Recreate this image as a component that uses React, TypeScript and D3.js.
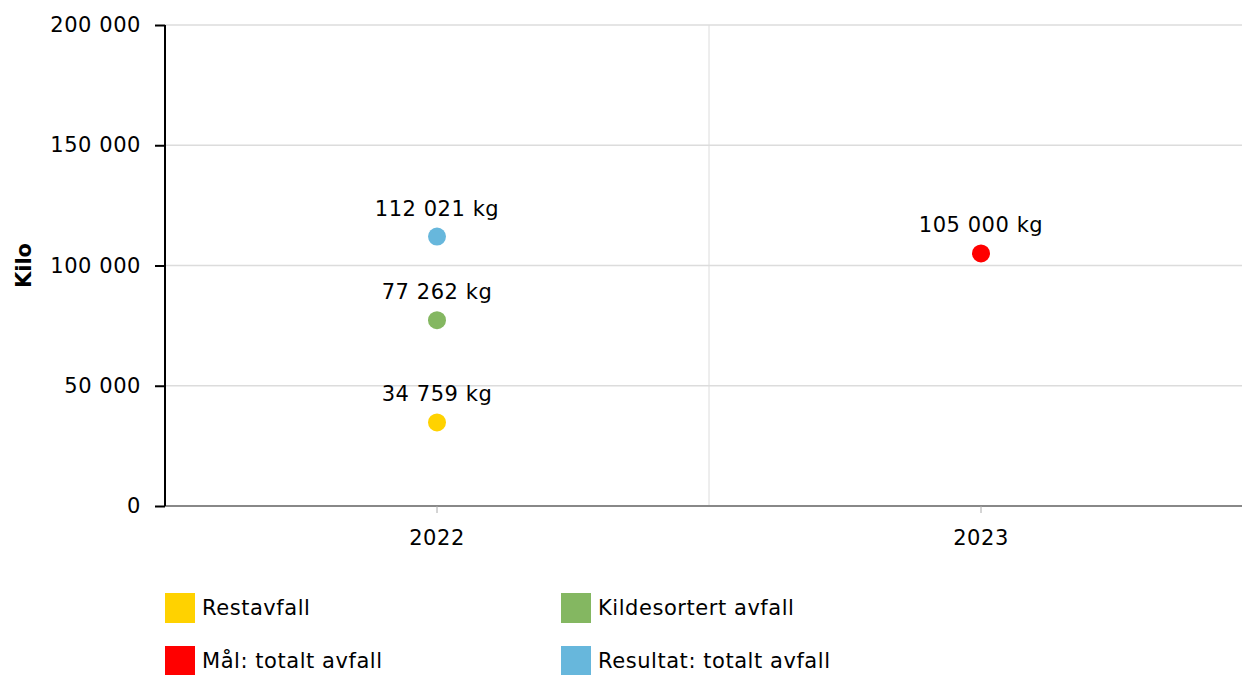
import React, { useRef, useEffect } from 'react';
import * as d3 from 'd3';

const years = ['2022', '2023'];
const seriesNames = ['Restavfall', 'Kildesortert avfall', 'Mål: totalt avfall', 'Resultat: totalt avfall'];
const seriesColors = ['#FFD200', '#84B761', '#FF0000', '#67B7DC'];
// [year, value] per series
const restavfall: [string, number][] = [['2022', 34759]];
const kildesortert: [string, number][] = [['2022', 77262]];
const maal: [string, number][] = [['2023', 105000]];
const resultat: [string, number][] = [['2022', 112021]];
const yTicks = [0, 50000, 100000, 150000, 200000];

const fmt = (v: number) => d3.format(',')(v).replace(/,/g, ' ');

const App = () => {
  const svgRef = useRef<SVGSVGElement>(null);

  useEffect(() => {
    const width = 1242;
    const height = 675;
    const margin = { top: 25, right: -11, bottom: 169, left: 165 };
    const font = 'DejaVu Sans, Verdana, sans-serif';
    const fs = '21px';
    const ls = '0.55px';

    const svg = d3.select(svgRef.current);
    svg.selectAll('*').remove();
    svg.attr('width', width).attr('height', height);

    const x = d3.scaleBand()
      .domain(years)
      .range([margin.left, width - margin.right]);
    const y = d3.scaleLinear()
      .domain([0, 200000])
      .range([height - margin.bottom, margin.top]);

    // grid
    svg.append('g')
      .selectAll('line')
      .data(yTicks.slice(1))
      .enter()
      .append('line')
      .attr('x1', margin.left)
      .attr('x2', width)
      .attr('y1', d => y(d))
      .attr('y2', d => y(d))
      .attr('stroke', '#dcdcdc')
      .attr('stroke-width', 1.5);

    svg.append('line')
      .attr('x1', (x('2023') as number))
      .attr('x2', (x('2023') as number))
      .attr('y1', y(200000))
      .attr('y2', y(0))
      .attr('stroke', '#dcdcdc')
      .attr('stroke-width', 1);

    // x axis
    const xAxis = d3.axisBottom(x).tickSize(7).tickPadding(17);
    const gx = svg.append('g')
      .attr('transform', `translate(0,${y(0)})`)
      .call(xAxis);
    gx.select('.domain').attr('stroke', '#888').attr('stroke-width', 2).attr('d', `M${margin.left},0H${width}`);
    gx.selectAll('.tick line').attr('stroke', '#aaa');
    gx.selectAll('text')
      .style('font-family', font)
      .style('font-size', fs)
      .style('letter-spacing', ls)
      .style('fill', '#000');

    // y axis
    const yAxis = d3.axisLeft(y).tickValues(yTicks).tickFormat(d => fmt(d as number)).tickSize(10).tickPadding(14);
    const gy = svg.append('g')
      .attr('transform', `translate(${margin.left},0)`)
      .call(yAxis);
    gy.select('.domain').attr('stroke', '#000').attr('stroke-width', 2).attr('d', `M0,${y(200000)}V${y(0)}`);
    gy.selectAll('.tick line').attr('stroke', '#000').attr('stroke-width', 2);
    gy.selectAll('text')
      .style('font-family', font)
      .style('font-size', fs)
      .style('letter-spacing', ls)
      .style('fill', '#000');

    svg.append('text')
      .attr('transform', `translate(31,${(y(0) + y(200000)) / 2}) rotate(-90)`)
      .attr('text-anchor', 'middle')
      .style('font-family', font)
      .style('font-size', fs)
      .style('font-weight', 'bold')
      .text('Kilo');

    // points
    const allSeries = [restavfall, kildesortert, maal, resultat];
    const cx = (yr: string) => (x(yr) as number) + x.bandwidth() / 2;
    allSeries.forEach((data, i) => {
      const g = svg.append('g');
      g.selectAll('circle')
        .data(data)
        .enter()
        .append('circle')
        .attr('cx', d => cx(d[0]))
        .attr('cy', d => y(d[1]))
        .attr('r', 9)
        .attr('fill', seriesColors[i]);
      g.selectAll('text')
        .data(data)
        .enter()
        .append('text')
        .attr('x', d => cx(d[0]))
        .attr('y', d => y(d[1]) - 21)
        .attr('text-anchor', 'middle')
        .style('font-family', font)
        .style('font-size', fs)
        .style('letter-spacing', ls)
        .text(d => `${fmt(d[1])} kg`);
    });

    // legend
    const legend = svg.append('g');
    seriesNames.forEach((name, i) => {
      const lx = 165 + (i % 2) * 396;
      const ly = 593 + Math.floor(i / 2) * 53;
      legend.append('rect')
        .attr('x', lx)
        .attr('y', ly)
        .attr('width', 30)
        .attr('height', 30)
        .attr('fill', seriesColors[i]);
      legend.append('text')
        .attr('x', lx + 37)
        .attr('y', ly + 22)
        .style('font-family', font)
        .style('font-size', fs)
        .style('letter-spacing', ls)
        .text(name);
    });
  }, []);

  return (
    <div style={{ position: 'absolute', left: 0, top: 0, width: 1242, height: 675, background: '#fff', overflow: 'hidden' }}>
      <svg ref={svgRef} style={{ display: 'block' }}></svg>
    </div>
  );
};

export default App;
